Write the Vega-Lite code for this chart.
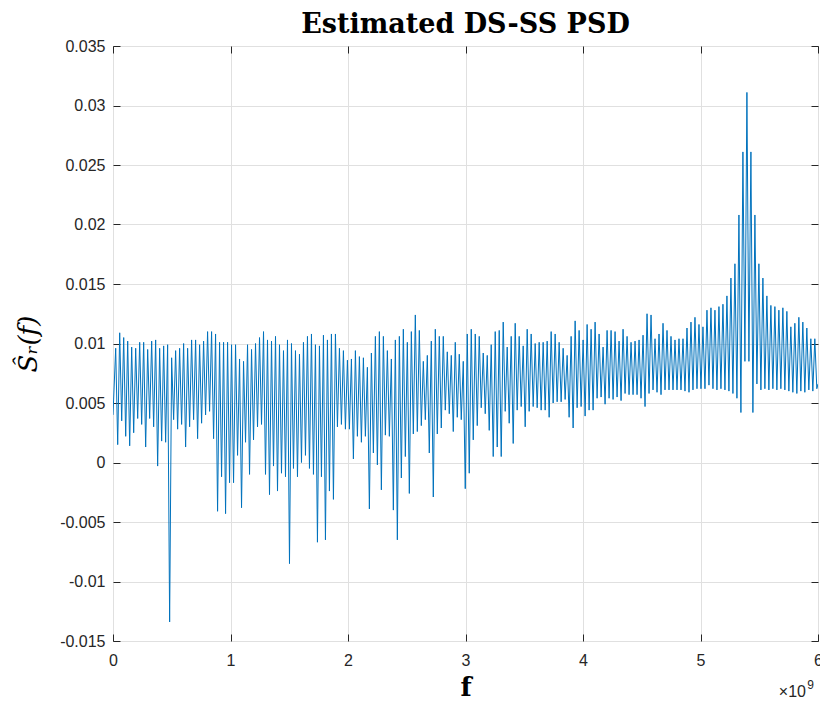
{
"$schema": "https://vega.github.io/schema/vega-lite/v6.json",
"width": 705, "height": 595, "autosize": "none",
"padding": {"left": 113, "top": 46, "right": 2, "bottom": 61},
"background": "white",
"view": {"stroke": "#262626", "strokeWidth": 1},
"title": {"text": "Estimated DS-SS PSD", "font": "DejaVu Serif", "fontSize": 27, "fontWeight": "bold", "color": "#000000", "offset": 12, "dy": 13, "anchor": "middle"},
"data": {"values": [
{"f":0,"s":0.0040},
{"f":0.023,"s":0.0096},{"f":0.040,"s":0.0015},{"f":0.057,"s":0.0109},{"f":0.074,"s":0.0035},{"f":0.091,"s":0.0105},{"f":0.108,"s":0.0022},{"f":0.125,"s":0.0102},{"f":0.142,"s":0.0014},{"f":0.159,"s":0.0097},{"f":0.176,"s":0.0025},
{"f":0.193,"s":0.0096},{"f":0.210,"s":0.0037},{"f":0.227,"s":0.0101},{"f":0.244,"s":0.0032},{"f":0.261,"s":0.0101},{"f":0.278,"s":0.0013},{"f":0.295,"s":0.0095},{"f":0.312,"s":0.0037},{"f":0.329,"s":0.0102},{"f":0.346,"s":0.0030},
{"f":0.363,"s":0.0103},{"f":0.380,"s":-0.0003},{"f":0.397,"s":0.0096},{"f":0.414,"s":0.0018},{"f":0.431,"s":0.0098},{"f":0.448,"s":0.0017},{"f":0.465,"s":0.0099},{"f":0.482,"s":-0.0134},{"f":0.499,"s":0.0088},{"f":0.516,"s":0.0036},
{"f":0.533,"s":0.0094},{"f":0.550,"s":0.0028},{"f":0.567,"s":0.0096},{"f":0.584,"s":0.0032},{"f":0.601,"s":0.0100},{"f":0.618,"s":0.0013},{"f":0.635,"s":0.0096},{"f":0.652,"s":0.0030},{"f":0.669,"s":0.0103},{"f":0.686,"s":0.0036},
{"f":0.703,"s":0.0103},{"f":0.720,"s":0.0020},{"f":0.737,"s":0.0099},{"f":0.754,"s":0.0033},{"f":0.771,"s":0.0102},{"f":0.788,"s":0.0040},{"f":0.805,"s":0.0110},{"f":0.822,"s":0.0043},{"f":0.839,"s":0.0110},{"f":0.856,"s":0.0020},
{"f":0.873,"s":0.0108},{"f":0.890,"s":-0.0041},{"f":0.907,"s":0.0101},{"f":0.924,"s":-0.0012},{"f":0.941,"s":0.0101},{"f":0.958,"s":-0.0043},{"f":0.975,"s":0.0101},{"f":0.992,"s":-0.0017},{"f":1.009,"s":0.0099},{"f":1.026,"s":-0.0017},
{"f":1.043,"s":0.0099},{"f":1.060,"s":0.0006},{"f":1.077,"s":0.0087},{"f":1.094,"s":-0.0038},{"f":1.111,"s":0.0085},{"f":1.128,"s":0.0017},{"f":1.145,"s":0.0099},{"f":1.162,"s":-0.0010},{"f":1.179,"s":0.0095},{"f":1.196,"s":0.0019},
{"f":1.213,"s":0.0100},{"f":1.230,"s":0.0030},{"f":1.247,"s":0.0105},{"f":1.264,"s":0.0032},{"f":1.281,"s":0.0110},{"f":1.298,"s":-0.0010},{"f":1.315,"s":0.0103},{"f":1.332,"s":-0.0027},{"f":1.349,"s":0.0102},{"f":1.366,"s":-0.0003},
{"f":1.383,"s":0.0106},{"f":1.400,"s":-0.0024},{"f":1.417,"s":0.0099},{"f":1.434,"s":-0.0009},{"f":1.451,"s":0.0094},{"f":1.468,"s":-0.0012},{"f":1.485,"s":0.0103},{"f":1.502,"s":-0.0085},{"f":1.519,"s":0.0100},{"f":1.536,"s":-0.0005},
{"f":1.553,"s":0.0094},{"f":1.570,"s":-0.0012},{"f":1.587,"s":0.0091},{"f":1.604,"s":0.0000},{"f":1.621,"s":0.0101},{"f":1.638,"s":0.0006},{"f":1.655,"s":0.0106},{"f":1.672,"s":-0.0005},{"f":1.689,"s":0.0108},{"f":1.706,"s":-0.0010},
{"f":1.723,"s":0.0099},{"f":1.740,"s":-0.0067},{"f":1.757,"s":0.0098},{"f":1.774,"s":-0.0012},{"f":1.791,"s":0.0107},{"f":1.808,"s":-0.0065},{"f":1.825,"s":0.0103},{"f":1.842,"s":-0.0024},{"f":1.859,"s":0.0108},{"f":1.876,"s":-0.0031},
{"f":1.893,"s":0.0108},{"f":1.910,"s":0.0030},{"f":1.927,"s":0.0096},{"f":1.944,"s":0.0032},{"f":1.961,"s":0.0094},{"f":1.978,"s":0.0028},{"f":1.995,"s":0.0086},{"f":2.012,"s":0.0028},{"f":2.029,"s":0.0087},{"f":2.046,"s":0.0003},
{"f":2.063,"s":0.0094},{"f":2.080,"s":0.0022},{"f":2.097,"s":0.0089},{"f":2.114,"s":0.0017},{"f":2.131,"s":0.0088},{"f":2.148,"s":0.0022},{"f":2.165,"s":0.0080},{"f":2.182,"s":-0.0039},{"f":2.199,"s":0.0092},{"f":2.216,"s":0.0008},
{"f":2.233,"s":0.0106},{"f":2.250,"s":-0.0002},{"f":2.267,"s":0.0110},{"f":2.284,"s":-0.0023},{"f":2.301,"s":0.0106},{"f":2.318,"s":0.0023},{"f":2.335,"s":0.0094},{"f":2.352,"s":0.0022},{"f":2.369,"s":0.0087},{"f":2.386,"s":-0.0040},
{"f":2.403,"s":0.0103},{"f":2.420,"s":-0.0065},{"f":2.437,"s":0.0106},{"f":2.454,"s":-0.0013},{"f":2.471,"s":0.0112},{"f":2.488,"s":0.0005},{"f":2.505,"s":0.0101},{"f":2.522,"s":-0.0026},{"f":2.539,"s":0.0110},{"f":2.556,"s":0.0024},
{"f":2.573,"s":0.0124},{"f":2.590,"s":0.0026},{"f":2.607,"s":0.0111},{"f":2.624,"s":0.0031},{"f":2.641,"s":0.0085},{"f":2.658,"s":0.0036},{"f":2.675,"s":0.0090},{"f":2.692,"s":0.0008},{"f":2.709,"s":0.0102},{"f":2.726,"s":-0.0029},
{"f":2.743,"s":0.0112},{"f":2.760,"s":0.0024},{"f":2.777,"s":0.0106},{"f":2.794,"s":0.0029},{"f":2.811,"s":0.0106},{"f":2.828,"s":0.0044},{"f":2.845,"s":0.0093},{"f":2.862,"s":0.0041},{"f":2.879,"s":0.0090},{"f":2.896,"s":0.0026},
{"f":2.913,"s":0.0101},{"f":2.930,"s":0.0038},{"f":2.947,"s":0.0091},{"f":2.964,"s":0.0036},{"f":2.981,"s":0.0085},{"f":2.998,"s":-0.0022},{"f":3.015,"s":0.0108},{"f":3.032,"s":-0.0009},{"f":3.049,"s":0.0112},{"f":3.066,"s":0.0019},
{"f":3.083,"s":0.0108},{"f":3.100,"s":0.0031},{"f":3.117,"s":0.0106},{"f":3.134,"s":0.0046},{"f":3.151,"s":0.0092},{"f":3.168,"s":0.0041},{"f":3.185,"s":0.0090},{"f":3.202,"s":0.0027},{"f":3.219,"s":0.0099},{"f":3.236,"s":0.0005},
{"f":3.253,"s":0.0110},{"f":3.270,"s":0.0013},{"f":3.287,"s":0.0111},{"f":3.304,"s":0.0005},{"f":3.321,"s":0.0118},{"f":3.338,"s":0.0043},{"f":3.355,"s":0.0097},{"f":3.372,"s":0.0033},{"f":3.389,"s":0.0106},{"f":3.406,"s":0.0016},
{"f":3.423,"s":0.0117},{"f":3.440,"s":0.0044},{"f":3.457,"s":0.0106},{"f":3.474,"s":0.0047},{"f":3.491,"s":0.0098},{"f":3.508,"s":0.0030},{"f":3.525,"s":0.0112},{"f":3.542,"s":0.0043},{"f":3.559,"s":0.0108},{"f":3.576,"s":0.0047},
{"f":3.593,"s":0.0100},{"f":3.610,"s":0.0046},{"f":3.627,"s":0.0101},{"f":3.644,"s":0.0044},{"f":3.661,"s":0.0101},{"f":3.678,"s":0.0044},{"f":3.695,"s":0.0102},{"f":3.712,"s":0.0038},{"f":3.729,"s":0.0110},{"f":3.746,"s":0.0050},
{"f":3.763,"s":0.0108},{"f":3.780,"s":0.0051},{"f":3.797,"s":0.0101},{"f":3.814,"s":0.0051},{"f":3.831,"s":0.0096},{"f":3.848,"s":0.0053},{"f":3.865,"s":0.0090},{"f":3.882,"s":0.0038},{"f":3.899,"s":0.0106},{"f":3.916,"s":0.0029},
{"f":3.933,"s":0.0119},{"f":3.950,"s":0.0046},{"f":3.967,"s":0.0111},{"f":3.984,"s":0.0047},{"f":4.001,"s":0.0103},{"f":4.018,"s":0.0039},{"f":4.035,"s":0.0116},{"f":4.052,"s":0.0044},{"f":4.069,"s":0.0112},{"f":4.086,"s":0.0044},
{"f":4.103,"s":0.0118},{"f":4.120,"s":0.0054},{"f":4.137,"s":0.0108},{"f":4.154,"s":0.0055},{"f":4.171,"s":0.0097},{"f":4.188,"s":0.0049},{"f":4.205,"s":0.0111},{"f":4.222,"s":0.0054},{"f":4.239,"s":0.0111},{"f":4.256,"s":0.0053},
{"f":4.273,"s":0.0110},{"f":4.290,"s":0.0055},{"f":4.307,"s":0.0102},{"f":4.324,"s":0.0052},{"f":4.341,"s":0.0112},{"f":4.358,"s":0.0058},{"f":4.375,"s":0.0106},{"f":4.392,"s":0.0057},{"f":4.409,"s":0.0101},{"f":4.426,"s":0.0057},
{"f":4.443,"s":0.0102},{"f":4.460,"s":0.0057},{"f":4.477,"s":0.0103},{"f":4.494,"s":0.0054},{"f":4.511,"s":0.0107},{"f":4.528,"s":0.0047},{"f":4.545,"s":0.0125},{"f":4.562,"s":0.0058},{"f":4.579,"s":0.0124},{"f":4.596,"s":0.0061},
{"f":4.613,"s":0.0104},{"f":4.630,"s":0.0059},{"f":4.647,"s":0.0108},{"f":4.664,"s":0.0057},{"f":4.681,"s":0.0117},{"f":4.698,"s":0.0061},{"f":4.715,"s":0.0111},{"f":4.732,"s":0.0061},{"f":4.749,"s":0.0106},{"f":4.766,"s":0.0061},
{"f":4.783,"s":0.0103},{"f":4.800,"s":0.0061},{"f":4.817,"s":0.0104},{"f":4.834,"s":0.0061},{"f":4.851,"s":0.0104},{"f":4.868,"s":0.0060},{"f":4.885,"s":0.0113},{"f":4.902,"s":0.0059},{"f":4.919,"s":0.0118},{"f":4.936,"s":0.0061},
{"f":4.953,"s":0.0122},{"f":4.970,"s":0.0062},{"f":4.987,"s":0.0116},{"f":5.004,"s":0.0062},{"f":5.021,"s":0.0114},{"f":5.038,"s":0.0062},{"f":5.055,"s":0.0128},{"f":5.072,"s":0.0065},{"f":5.089,"s":0.0130},{"f":5.106,"s":0.0062},
{"f":5.123,"s":0.0128},{"f":5.140,"s":0.0061},{"f":5.157,"s":0.0131},{"f":5.174,"s":0.0062},{"f":5.191,"s":0.0133},{"f":5.208,"s":0.0061},{"f":5.225,"s":0.0140},{"f":5.242,"s":0.0060},{"f":5.259,"s":0.0155},{"f":5.276,"s":0.0058},
{"f":5.293,"s":0.0167},{"f":5.310,"s":0.0054},{"f":5.327,"s":0.0208},{"f":5.344,"s":0.0042},{"f":5.361,"s":0.0261},{"f":5.378,"s":0.0085},{"f":5.395,"s":0.0311},{"f":5.412,"s":0.0085},{"f":5.429,"s":0.0261},{"f":5.446,"s":0.0042},
{"f":5.463,"s":0.0208},{"f":5.480,"s":0.0066},{"f":5.497,"s":0.0167},{"f":5.514,"s":0.0061},{"f":5.531,"s":0.0155},{"f":5.548,"s":0.0062},{"f":5.565,"s":0.0140},{"f":5.582,"s":0.0061},{"f":5.599,"s":0.0132},{"f":5.616,"s":0.0062},
{"f":5.633,"s":0.0131},{"f":5.650,"s":0.0061},{"f":5.667,"s":0.0128},{"f":5.684,"s":0.0062},{"f":5.701,"s":0.0130},{"f":5.718,"s":0.0061},{"f":5.735,"s":0.0127},{"f":5.752,"s":0.0060},{"f":5.769,"s":0.0114},{"f":5.786,"s":0.0059},
{"f":5.803,"s":0.0117},{"f":5.820,"s":0.0058},{"f":5.837,"s":0.0122},{"f":5.854,"s":0.0060},{"f":5.871,"s":0.0118},{"f":5.888,"s":0.0059},{"f":5.905,"s":0.0113},{"f":5.922,"s":0.0061},{"f":5.939,"s":0.0104},{"f":5.956,"s":0.0060},
{"f":5.973,"s":0.0104},{"f":5.990,"s":0.0062},{"f":6.0,"s":0.0066}
]},
"layer": [
{
"mark": {"type": "line", "color": "#0072BD", "strokeWidth": 1, "clip": true},
"encoding": {
"x": {"field": "f", "type": "quantitative",
"scale": {"domain": [0, 6], "nice": false, "zero": false},
"axis": {"orient": "bottom", "values": [0,1,2,3,4,5,6], "format": "d", "grid": true, "gridColor": "#e0e0e0", "domain": false, "ticks": false,
"labelPadding": 11, "labelFlush": false, "labelFont": "Liberation Sans", "labelFontSize": 16, "labelColor": "#262626",
"title": "f", "titleFont": "DejaVu Serif", "titleFontWeight": "bold", "titleFontSize": 26, "titleColor": "#000000", "titlePadding": 6}},
"y": {"field": "s", "type": "quantitative",
"scale": {"domain": [-0.015, 0.035], "nice": false, "zero": false},
"axis": {"orient": "left", "values": [-0.015,-0.01,-0.005,0,0.005,0.01,0.015,0.02,0.025,0.03,0.035], "labelExpr": "'' + datum.value", "grid": true, "gridColor": "#e0e0e0", "domain": false, "ticks": false,
"labelPadding": 8, "labelFlush": false, "labelFont": "Liberation Sans", "labelFontSize": 16, "labelColor": "#262626",
"title": "Ŝᵣ(f)", "titleFont": "DejaVu Serif", "titleFontStyle": "italic", "titleFontWeight": "normal", "titleFontSize": 26, "titleColor": "#000000", "titlePadding": 18}}
}
},
{
"data": {"values": [{"f": 6, "s": -0.015, "label": "×10"}]},
"mark": {"type": "text", "align": "right", "baseline": "alphabetic", "dx": -12, "dy": 56, "font": "Liberation Sans", "fontSize": 16, "color": "#262626", "clip": false},
"encoding": {
"x": {"field": "f", "type": "quantitative", "scale": {"domain": [0, 6], "nice": false, "zero": false},
"axis": {"orient": "top", "offset": -595, "values": [0,1,2,3,4,5,6], "labels": false, "grid": false, "domain": false, "ticks": true, "tickSize": 7, "tickColor": "#262626", "title": null}},
"y": {"field": "s", "type": "quantitative", "scale": {"domain": [-0.015, 0.035], "nice": false, "zero": false},
"axis": {"orient": "right", "offset": -705, "values": [-0.015,-0.01,-0.005,0,0.005,0.01,0.015,0.02,0.025,0.03,0.035], "labels": false, "grid": false, "domain": false, "ticks": true, "tickSize": 7, "tickColor": "#262626", "title": null}},
"text": {"field": "label"}
}
},
{
"data": {"values": [{"f": 6, "s": -0.015, "label": "9"}]},
"mark": {"type": "text", "align": "right", "baseline": "alphabetic", "dx": -4, "dy": 48, "font": "Liberation Sans", "fontSize": 12, "color": "#262626", "clip": false},
"encoding": {
"x": {"field": "f", "type": "quantitative", "scale": {"domain": [0, 6], "nice": false, "zero": false},
"axis": {"orient": "bottom", "offset": -595, "values": [0,1,2,3,4,5,6], "labels": false, "grid": false, "domain": false, "ticks": true, "tickSize": 7, "tickColor": "#262626", "title": null}},
"y": {"field": "s", "type": "quantitative", "scale": {"domain": [-0.015, 0.035], "nice": false, "zero": false},
"axis": {"orient": "left", "offset": -705, "values": [-0.015,-0.01,-0.005,0,0.005,0.01,0.015,0.02,0.025,0.03,0.035], "labels": false, "grid": false, "domain": false, "ticks": true, "tickSize": 7, "tickColor": "#262626", "title": null}},
"text": {"field": "label"}
}
}
]
}
